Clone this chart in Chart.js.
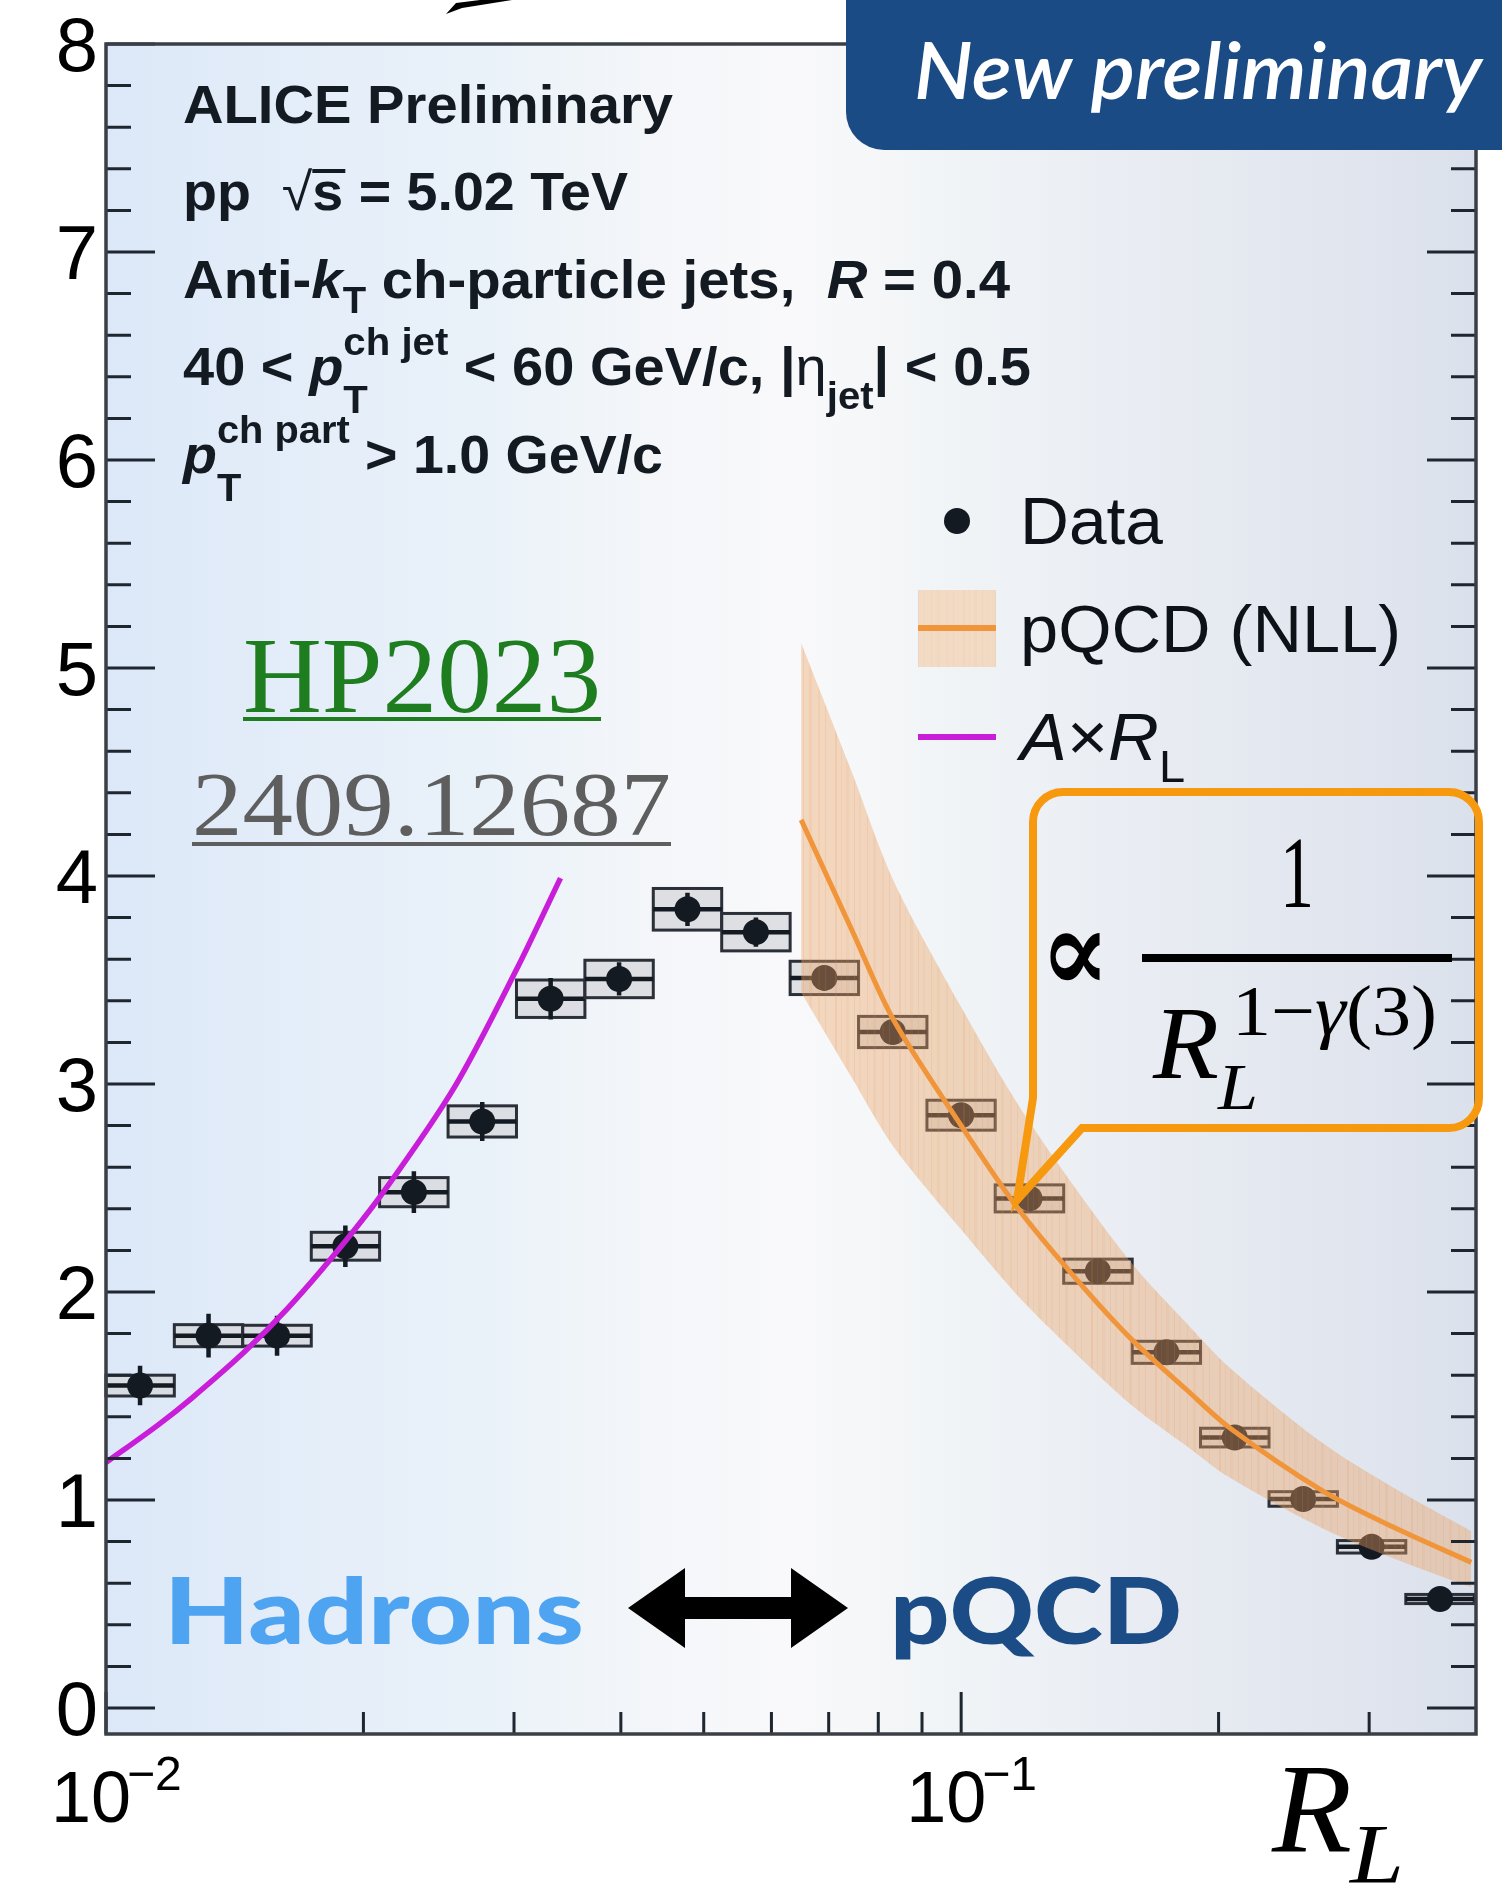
<!DOCTYPE html>
<html>
<head>
<script src="https://cdn.jsdelivr.net/npm/chart.js@4.4.0/dist/chart.umd.min.js"></script>
<title>ALICE EEC vs R_L</title>
<style>html,body{margin:0;padding:0;background:#fff;overflow:hidden}</style>
</head>
<body>
<canvas id="myChart" width="1502" height="1885"></canvas>
<script>
// R_L bins (log spaced) and measured values
const binEdges = [0.01, 0.01202, 0.01445, 0.01738, 0.02089, 0.02512, 0.0302, 0.03631, 0.04365, 0.05248, 0.0631,
                  0.07586, 0.0912, 0.1096, 0.1318, 0.1585, 0.1905, 0.2291, 0.2754, 0.3311, 0.3981];
const binCenters = [0.01096, 0.01318, 0.01585, 0.01905, 0.02291, 0.02754, 0.03311, 0.03981, 0.04786, 0.05754,
                    0.06918, 0.08318, 0.1, 0.1202, 0.1445, 0.1738, 0.2089, 0.2512, 0.302, 0.3631];
const dataValues = [1.55, 1.79, 1.79, 2.22, 2.48, 2.82, 3.41, 3.505, 3.84, 3.73,
                    3.51, 3.25, 2.85, 2.45, 2.10, 1.71, 1.30, 1.005, 0.775, 0.524];
const statErr = [0.095, 0.105, 0.096, 0.10, 0.10, 0.094, 0.10, 0.08, 0.08, 0.07,
                 0.06, 0.055, 0.05, 0.045, 0.04, 0.04, 0.035, 0.03, 0.03, 0.03];
const sysErr = [0.05, 0.053, 0.05, 0.067, 0.07, 0.075, 0.09, 0.09, 0.10, 0.09,
                0.08, 0.075, 0.072, 0.065, 0.058, 0.053, 0.045, 0.035, 0.03, 0.022];

// pQCD (NLL) curve and its band
const pqcdX = [0.065, 0.0745, 0.0833, 0.1, 0.1166, 0.1365, 0.1589, 0.1835, 0.2056, 0.2655, 0.32, 0.395];
const pqcdCentral = [4.27, 3.74, 3.31, 2.80, 2.40, 2.06, 1.765, 1.53, 1.35, 1.04, 0.87, 0.70];
const pqcdUpper = [5.12, 4.50, 3.98, 3.37, 2.90, 2.49, 2.13, 1.85, 1.64, 1.27, 1.06, 0.85];
const pqcdLower = [3.44, 3.03, 2.70, 2.30, 1.98, 1.70, 1.45, 1.26, 1.11, 0.86, 0.72, 0.58];

// A x R_L line
const linX = [0.01, 0.0115, 0.0126, 0.0145, 0.0163, 0.0185, 0.0211, 0.0256, 0.0302, 0.034];
const linY = [1.18, 1.36, 1.49, 1.71, 1.92, 2.18, 2.48, 2.99, 3.55, 3.99];

// axes
const yTickLabels = ['0', '1', '2', '3', '4', '5', '6', '7', '8'];
const xMajorTicks = [0.01, 0.1];
const xTickExps = ['\u22122', '\u22121'];
const xMinorTicks = [0.02, 0.03, 0.04, 0.05, 0.06, 0.07, 0.08, 0.09, 0.2, 0.3];

const SANS = '"Liberation Sans", Arial, sans-serif';
const SERIF = '"Liberation Serif", "Times New Roman", serif';
const INK = '#141a22';
const ORANGE = '#f0953a';
const MAGENTA = '#c91ed9';

const canvas = document.getElementById('myChart');
const ctx = canvas.getContext('2d');

function bandPattern() {
	const c = document.createElement('canvas');
	c.width = 64; c.height = 8;
	const g = c.getContext('2d');
	g.fillStyle = 'rgba(236,163,100,0.40)';
	g.fillRect(0, 0, 64, 8);
	const stripes = [[3,2,0.14],[9,1,0.10],[14,3,0.08],[22,1,0.16],[27,2,0.06],[35,1,0.14],[41,3,0.10],[50,2,0.08],[57,1,0.15]];
	stripes.forEach(s => { g.fillStyle = 'rgba(228,135,70,' + s[2] + ')'; g.fillRect(s[0], 0, s[1], 8); });
	return ctx.createPattern(c, 'repeat');
}
const band = bandPattern();

// draw a run of text pieces, optionally squeezed to a target width
// piece: [text, font, dy, overlineY] or {sup, sub, f, supDy, subDy}
function rich(c, x, y, parts, targetW, color) {
	let w = 0;
	const widths = parts.map(p => {
		if (Array.isArray(p)) { c.font = p[1]; return c.measureText(p[0]).width; }
		c.font = p.f;
		return Math.max(c.measureText(p.sup).width, c.measureText(p.sub).width);
	});
	widths.forEach(v => w += v);
	const sx = targetW ? targetW / w : 1;
	c.save();
	c.translate(x, y);
	c.scale(sx, 1);
	c.fillStyle = color || INK;
	c.textAlign = 'left';
	c.textBaseline = 'alphabetic';
	let cx = 0;
	parts.forEach((p, i) => {
		if (Array.isArray(p)) {
			c.font = p[1];
			c.fillText(p[0], cx, p[2] || 0);
			if (p[3]) { c.fillRect(cx, p[3], widths[i] + 2, 4); }
		} else {
			c.font = p.f;
			c.fillText(p.sup, cx, p.supDy);
			c.fillText(p.sub, cx, p.subDy);
		}
		cx += widths[i];
	});
	c.restore();
}

const bgPlugin = {
	id: 'bg',
	beforeDraw(chart) {
		const c = chart.ctx;
		const a = chart.chartArea;
		c.save();
		c.fillStyle = '#ffffff';
		c.fillRect(0, 0, chart.width, chart.height);
		const g = c.createLinearGradient(a.left, 0, a.right, 0);
		g.addColorStop(0.00, '#dce8f8');
		g.addColorStop(0.10, '#e2ecf9');
		g.addColorStop(0.28, '#eaf2f9');
		g.addColorStop(0.40, '#f4f6f9');
		g.addColorStop(0.50, '#f9f9fb');
		g.addColorStop(0.60, '#f2f5f7');
		g.addColorStop(0.70, '#eceff4');
		g.addColorStop(0.85, '#e4e8f0');
		g.addColorStop(1.00, '#dbe1ec');
		c.fillStyle = g;
		c.fillRect(a.left, a.top, a.right - a.left, a.bottom - a.top);
		c.restore();
	}
};

// systematic boxes, x-bars and statistical bars
const errPlugin = {
	id: 'errs',
	beforeDatasetsDraw(chart) {
		const c = chart.ctx, xs = chart.scales.x, ys = chart.scales.y;
		c.save();
		for (let i = 0; i < dataValues.length; i++) {
			const xl = xs.getPixelForValue(binEdges[i]);
			const xr = xs.getPixelForValue(binEdges[i + 1]);
			const xc = xs.getPixelForValue(binCenters[i]);
			const y = ys.getPixelForValue(dataValues[i]);
			const yt = ys.getPixelForValue(dataValues[i] + sysErr[i]);
			const yb = ys.getPixelForValue(dataValues[i] - sysErr[i]);
			c.fillStyle = 'rgba(214,215,219,0.75)';
			c.fillRect(xl, yt, xr - xl, yb - yt);
			c.strokeStyle = '#2b3038';
			c.lineWidth = 3;
			c.strokeRect(xl, yt, xr - xl, yb - yt);
			c.strokeStyle = INK;
			c.lineWidth = 4.5;
			c.beginPath();
			c.moveTo(xl, y); c.lineTo(xr, y);
			c.moveTo(xc, ys.getPixelForValue(dataValues[i] + statErr[i]));
			c.lineTo(xc, ys.getPixelForValue(dataValues[i] - statErr[i]));
			c.stroke();
		}
		c.restore();
	}
};

const framePlugin = {
	id: 'frame',
	afterDatasetsDraw(chart) {
		const c = chart.ctx, xs = chart.scales.x, ys = chart.scales.y;
		const a = chart.chartArea;
		c.save();
		c.strokeStyle = '#1e2630';
		c.lineWidth = 3;
		c.beginPath();
		for (let k = 0; k <= 40; k++) {
			const y = ys.getPixelForValue(k / 5);
			const len = k % 5 === 0 ? 49 : 25;
			c.moveTo(a.left, y); c.lineTo(a.left + len, y);
			c.moveTo(a.right, y); c.lineTo(a.right - len, y);
		}
		xMinorTicks.forEach(v => {
			const x = xs.getPixelForValue(v);
			c.moveTo(x, a.bottom); c.lineTo(x, a.bottom - 22);
		});
		xMajorTicks.forEach(v => {
			const x = xs.getPixelForValue(v);
			c.moveTo(x, a.bottom); c.lineTo(x, a.bottom - 42);
		});
		c.stroke();
		c.strokeStyle = '#3a3f46';
		c.lineWidth = 3.5;
		c.strokeRect(a.left, a.top, a.right - a.left, a.bottom - a.top);

		// y tick labels
		c.fillStyle = '#000';
		c.font = '76px ' + SANS;
		c.textAlign = 'right';
		c.textBaseline = 'alphabetic';
		yTickLabels.forEach((t, i) => {
			c.fillText(t, 98, ys.getPixelForValue(i) + 27);
		});
		// x tick labels 10^n
		c.textAlign = 'left';
		xMajorTicks.forEach((v, i) => {
			const x = xs.getPixelForValue(v) - 55;
			c.font = '72px ' + SANS;
			c.fillText('10', x, 1822);
			const w = c.measureText('10').width;
			c.font = '48px ' + SANS;
			c.fillText(xTickExps[i], x + w - 4, 1790);
		});
		c.restore();
	}
};

const decoPlugin = {
	id: 'deco',
	afterDraw(chart) {
		const c = chart.ctx;
		const B = s => 'bold ' + s + 'px ' + SANS;
		const BI = s => 'italic bold ' + s + 'px ' + SANS;
		const R = s => s + 'px ' + SANS;
		const RI = s => 'italic ' + s + 'px ' + SANS;

		// info block
		rich(c, 183, 123, [['ALICE Preliminary', B(53)]], 490);
		rich(c, 183, 210, [['pp  ', B(53)], ['\u221A', R(53)], ['s', B(53), 0, -41], [' = 5.02 TeV', B(53)]], 445);
		rich(c, 183, 298, [['Anti-', B(53)], ['k', BI(53)], ['T', B(36), 15], [' ch-particle jets,  ', B(53)],
			['R', BI(53)], [' = 0.4', B(53)]], 827);
		rich(c, 183, 385, [['40 < ', B(53)], ['p', BI(53)], {sup: 'ch jet', sub: 'T', f: B(38), supDy: -30, subDy: 28},
			[' < 60 GeV/c, |', B(53)], ['\u03B7', R(53)], ['jet', B(38), 24], ['| < 0.5', B(53)]], 848);
		rich(c, 183, 473, [['p', BI(53)], {sup: 'ch part', sub: 'T', f: B(38), supDy: -30, subDy: 28},
			[' > 1.0 GeV/c', B(53)]], 480);

		// legend
		c.save();
		c.fillStyle = INK;
		c.beginPath(); c.arc(957, 521, 13, 0, Math.PI * 2); c.fill();
		c.fillStyle = band;
		c.fillRect(918, 590, 78, 77);
		c.fillStyle = 'rgba(245,225,205,0.5)';
		c.fillRect(918, 590, 78, 77);
		c.strokeStyle = ORANGE; c.lineWidth = 6;
		c.beginPath(); c.moveTo(918, 628); c.lineTo(996, 628); c.stroke();
		c.strokeStyle = MAGENTA;
		c.beginPath(); c.moveTo(918, 737); c.lineTo(996, 737); c.stroke();
		c.restore();
		rich(c, 1020, 544, [['Data', R(66)]], 143, '#0d1218');
		rich(c, 1020, 652, [['pQCD (NLL)', R(66)]], 381, '#0d1218');
		rich(c, 1020, 760, [['A', RI(66)], ['\u00D7', R(66)], ['R', RI(66)], ['L', R(44), 22]], 165, '#0d1218');

		// link texts
		rich(c, 243, 712, [['HP2023', '107px ' + SERIF]], 358, '#1e7d1e');
		c.fillStyle = '#1e7d1e'; c.fillRect(243, 717, 358, 4);
		rich(c, 192, 835, [['2409.12687', '92px ' + SERIF]], 479, '#5e5e5e');
		c.fillStyle = '#5e5e5e'; c.fillRect(192, 842, 479, 4);

		// Hadrons <-> pQCD
		rich(c, 164, 1644, [['Hadrons', '900 92px Lato, ' + SANS]], 420, '#4fa4f2');
		rich(c, 890, 1644, [['pQCD', '900 92px Lato, ' + SANS]], 292, '#1b4c85');
		c.save();
		c.fillStyle = '#000';
		c.beginPath();
		c.moveTo(628, 1608); c.lineTo(685, 1568); c.lineTo(685, 1597); c.lineTo(791, 1597);
		c.lineTo(791, 1568); c.lineTo(848, 1608); c.lineTo(791, 1648); c.lineTo(791, 1619);
		c.lineTo(685, 1619); c.lineTo(685, 1648); c.closePath();
		c.fill();
		c.restore();

		// axis title R_L
		rich(c, 1272, 1852, [['R', 'italic 128px ' + SERIF]], 80, '#000');
		rich(c, 1350, 1883, [['L', 'italic 84px ' + SERIF]], 54, '#000');

		// callout
		c.save();
		c.strokeStyle = '#f7990f';
		c.lineWidth = 8;
		c.lineJoin = 'miter';
		const L = 1033, T = 792, Rr = 1479, Bt = 1128, rad = 30;
		c.beginPath();
		c.moveTo(1082, Bt);
		c.lineTo(Rr - rad, Bt);
		c.arcTo(Rr, Bt, Rr, Bt - rad, rad);
		c.lineTo(Rr, T + rad);
		c.arcTo(Rr, T, Rr - rad, T, rad);
		c.lineTo(L + rad, T);
		c.arcTo(L, T, L, T + rad, rad);
		c.lineTo(L, 1098);
		c.lineTo(1017, 1200);
		c.closePath();
		c.stroke();
		c.fillStyle = '#000';
		c.fillRect(1142, 954, 310, 8);
		c.restore();
		rich(c, 1040, 992, [['\u221D', 'bold 118px "DejaVu Serif", serif']], 70, '#000');
		rich(c, 1280, 907, [['1', '102px ' + SERIF]], 34, '#000');
		rich(c, 1153, 1078, [['R', 'italic 104px ' + SERIF]], 66, '#000');
		rich(c, 1218, 1109, [['L', 'italic 66px ' + SERIF]], 40, '#000');
		rich(c, 1232, 1035, [['1\u2212', '72px ' + SERIF], ['\u03B3', 'italic 72px ' + SERIF], ['(3)', '72px ' + SERIF]], 205, '#000');

		// banner
		c.save();
		c.fillStyle = '#1b4b84';
		c.beginPath();
		c.roundRect(846, -60, 720, 210, 38);
		c.fill();
		c.restore();
		rich(c, 914, 99, [['New preliminary', 'italic 600 78px Lato, "Open Sans", sans-serif']], 568, '#ffffff');

		// arrow fragment at top
		c.save();
		c.fillStyle = '#000';
		c.beginPath();
		c.moveTo(446, 14); c.lineTo(456, 3); c.lineTo(512, -4); c.lineTo(512, 0); c.lineTo(462, 8); c.closePath();
		c.fill();
		c.restore();
	}
};

const xy = (xs, vs) => xs.map((x, i) => ({x: x, y: vs[i]}));

new Chart(canvas, {
	type: 'line',
	data: {
		datasets: [
			{
				label: 'pQCD (NLL)',
				data: xy(pqcdX, pqcdCentral),
				borderColor: ORANGE,
				borderWidth: 5,
				pointRadius: 0,
				tension: 0.3,
				fill: false
			},
			{
				label: 'band upper',
				data: xy(pqcdX, pqcdUpper),
				borderWidth: 0,
				borderColor: 'rgba(0,0,0,0)',
				backgroundColor: band,
				pointRadius: 0,
				tension: 0.3,
				fill: '+1'
			},
			{
				label: 'band lower',
				data: xy(pqcdX, pqcdLower),
				borderWidth: 0,
				borderColor: 'rgba(0,0,0,0)',
				pointRadius: 0,
				tension: 0.3,
				fill: false
			},
			{
				label: 'A x RL',
				data: xy(linX, linY),
				borderColor: MAGENTA,
				borderWidth: 5.5,
				pointRadius: 0,
				tension: 0.3,
				fill: false
			},
			{
				label: 'Data',
				data: xy(binCenters, dataValues),
				showLine: false,
				pointRadius: 13,
				pointBackgroundColor: INK,
				pointBorderWidth: 0
			}
		]
	},
	options: {
		responsive: false,
		animation: false,
		devicePixelRatio: 1,
		layout: { padding: { left: 106, top: 44, right: 26, bottom: 151 } },
		plugins: { legend: { display: false }, tooltip: { enabled: false } },
		scales: {
			x: { type: 'logarithmic', min: 0.01, max: 0.4, display: false },
			y: { type: 'linear', min: -0.125, max: 8, display: false }
		}
	},
	plugins: [bgPlugin, errPlugin, framePlugin, decoPlugin]
});
</script>
</body>
</html>
